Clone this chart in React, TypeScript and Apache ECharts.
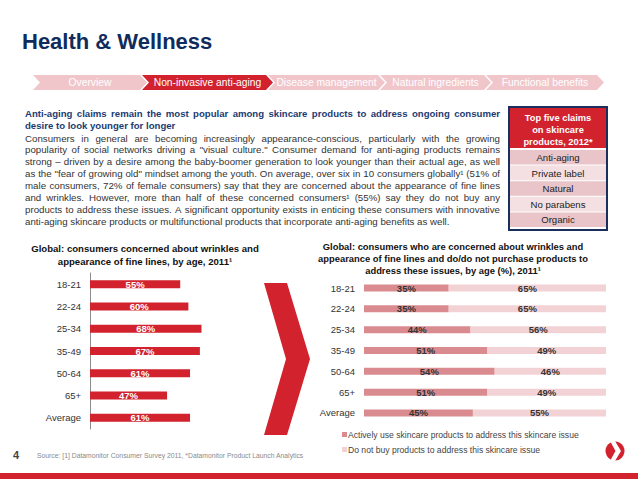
import React, { useEffect, useRef } from "react";
import * as echarts from "echarts";

// ---------- data ----------
const ageGroups = ["18-21", "22-24", "25-34", "35-49", "50-64", "65+", "Average"];
const concernedPct = [55, 60, 68, 67, 61, 47, 61];
const activelyUsePct = [35, 35, 44, 51, 54, 51, 45];
const doNotBuyPct = [65, 65, 56, 49, 46, 49, 55];
const seriesNames = [
  "Actively use skincare products to address this skincare issue",
  "Do not buy products to address this skincare issue",
];
const topClaims = ["Anti-aging", "Private label", "Natural", "No parabens", "Organic"];
const topClaimsTitle = ["Top five claims", "on skincare", "products, 2012*"];
const navItems = ["Overview", "Non-invasive anti-aging", "Disease management", "Natural ingredients", "Functional benefits"];
const activeNav = 1;
const pageTitle = "Health & Wellness";
const headlineLines = [
  "Anti-aging claims remain the most popular among skincare products to address ongoing consumer",
  "desire to look younger for longer",
];
const bodyLines = [
  "Consumers in general are becoming increasingly appearance-conscious, particularly with the growing",
  "popularity of social networks driving a \"visual culture.\" Consumer demand for anti-aging products remains",
  "strong – driven by a desire among the baby-boomer generation to look younger than their actual age, as well",
  "as the \"fear of growing old\" mindset among the youth. On average, over six in 10 consumers globally¹ (51% of",
  "male consumers, 72% of female consumers) say that they are concerned about the appearance of fine lines",
  "and wrinkles. However, more than half of these concerned consumers¹ (55%) say they do not buy any",
  "products to address these issues. A significant opportunity exists in enticing these consumers with innovative",
  "anti-aging skincare products or multifunctional products that incorporate anti-aging benefits as well.",
];
const leftTitle = ["Global: consumers concerned about wrinkles and", "appearance of fine lines, by age, 2011¹"];
const rightTitle = [
  "Global: consumers who are concerned about wrinkles and",
  "appearance of fine lines and do/do not purchase products to",
  "address these issues, by age (%), 2011¹",
];
const pageNumber = "4";
const sourceText = "Source: [1] Datamonitor Consumer Survey 2011, *Datamonitor Product Launch Analytics";

// ---------- styles ----------
const FONT = '"Liberation Sans", Arial, sans-serif';
const RED = "#d1222e";
const PINK = "#f1c6cb";
const NAVY = "#0f2c5c";
const DARK_SEG = "#d98b8f";
const LIGHT_SEG = "#f3d2d5";

function txt(text: string, x: number, y: number, size: number, color: string, weight = "normal", align = "left") {
  return {
    type: "text",
    x,
    y,
    silent: true,
    style: {
      text,
      fill: color,
      fontSize: size,
      fontWeight: weight,
      fontFamily: FONT,
      textAlign: align,
      textVerticalAlign: "middle",
    },
  };
}

function wordWidths(ctx: CanvasRenderingContext2D, text: string, size: number, weight: string) {
  ctx.font = `${weight} ${size}px ${FONT}`;
  return text.split(" ").map((w) => ctx.measureText(w).width);
}

function wordsLine(
  ctx: CanvasRenderingContext2D,
  text: string,
  left: number,
  right: number,
  y: number,
  size: number,
  weight: string,
  color: string,
  justify: boolean
) {
  const words = text.split(" ");
  const ws = wordWidths(ctx, text, size, weight);
  ctx.font = `${weight} ${size}px ${FONT}`;
  const total = ws.reduce((a, b) => a + b, 0);
  const space =
    justify && words.length > 1 ? (right - left - total) / (words.length - 1) : ctx.measureText(" ").width;
  let x = left;
  const out: any[] = [];
  words.forEach((w, i) => {
    out.push(txt(w, x, y, size, color, weight));
    x += ws[i] + space;
  });
  return out;
}

// pick a body font size so that the (unjustified) last line spans targetWidth,
// while keeping a minimum word gap on the justified lines
function fitBodySize(ctx: CanvasRenderingContext2D, lines: string[], targetLast: number, full: number) {
  const base = 9;
  const last = lines[lines.length - 1];
  ctx.font = `normal ${base}px ${FONT}`;
  let size = (base * targetLast) / ctx.measureText(last).width;
  for (let k = 0; k < 30; k++) {
    let ok = true;
    for (let i = 0; i < lines.length - 1; i++) {
      const ws = wordWidths(ctx, lines[i], size, "normal");
      const gap = (full - ws.reduce((a, b) => a + b, 0)) / (ws.length - 1);
      if (gap < 1.6) ok = false;
    }
    if (ok) break;
    size -= 0.05;
  }
  return size;
}

export default function App() {
  const ref = useRef<HTMLDivElement>(null);

  useEffect(() => {
    if (!ref.current) return;
    const chart = echarts.init(ref.current, undefined, { renderer: "svg" });
    const canvas = document.createElement("canvas");
    const ctx = canvas.getContext("2d") as CanvasRenderingContext2D;

    const g: any[] = [];

    // title
    g.push(txt(pageTitle, 22, 41, 22, NAVY, "bold"));

    // nav bar
    const xs = [33, 142, 268, 380, 486];
    const xe = [140, 266, 378, 484, 597];
    const d = 7;
    const top = 75;
    const bot = 90;
    const mid = (top + bot) / 2;
    navItems.forEach((name, i) => {
      g.push({
        type: "polygon",
        silent: true,
        shape: {
          points: [
            [xs[i], top],
            [xe[i], top],
            [xe[i] + d, mid],
            [xe[i], bot],
            [xs[i], bot],
            [xs[i] + d, mid],
          ],
        },
        style: { fill: i === activeNav ? RED : PINK },
      });
      g.push(txt(name, (xs[i] + xe[i]) / 2 + d / 2, mid, 10.3, "#ffffff", "normal", "center"));
    });

    // headline + body text
    headlineLines.forEach((l, i) => {
      g.push(...wordsLine(ctx, l, 25, 500, 113 + i * 12, 9.6, "bold", "#1c3b72", i < headlineLines.length - 1));
    });
    const bodySize = fitBodySize(ctx, bodyLines, 425, 475);
    bodyLines.forEach((l, i) => {
      g.push(...wordsLine(ctx, l, 25, 500, 138 + i * 11.9, bodySize, "normal", "#333333", i < bodyLines.length - 1));
    });

    // top claims box
    g.push({
      type: "rect",
      silent: true,
      shape: { x: 509, y: 107, width: 98, height: 123 },
      style: { fill: "#ffffff", stroke: "#1b2f5e", lineWidth: 2 },
    });
    g.push({
      type: "rect",
      silent: true,
      shape: { x: 510, y: 108, width: 96, height: 40 },
      style: { fill: RED },
    });
    topClaimsTitle.forEach((l, i) => {
      g.push(txt(l, 558, 118 + i * 12, 9.3, "#ffffff", "bold", "center"));
    });
    topClaims.forEach((c, i) => {
      const y = 150 + i * 15.6;
      g.push({
        type: "rect",
        silent: true,
        shape: { x: 510, y, width: 96, height: 14.6 },
        style: { fill: i % 2 === 0 ? "#e9c5c9" : "#f4e0e2" },
      });
      g.push(txt(c, 558, y + 7.5, 9.6, "#222222", "normal", "center"));
    });

    // chart titles
    leftTitle.forEach((l, i) => g.push(txt(l, 145, 248 + i * 13, 9.6, "#111111", "bold", "center")));
    rightTitle.forEach((l, i) => g.push(txt(l, 453, 246 + i * 12.2, 9.4, "#111111", "bold", "center")));

    // big chevron
    g.push({
      type: "polygon",
      silent: true,
      shape: {
        points: [
          [264, 283],
          [287, 283],
          [310, 359],
          [287, 435],
          [264, 435],
          [286, 359],
        ],
      },
      style: { fill: RED },
    });

    // footer
    g.push(txt(pageNumber, 13, 455, 11, "#444444", "bold"));
    g.push(txt(sourceText, 37, 455, 6.8, "#8a8a8a"));
    g.push({
      type: "rect",
      silent: true,
      shape: { x: 0, y: 473, width: 638, height: 6 },
      style: { fill: RED },
    });
    // logo
    g.push({
      type: "circle",
      silent: true,
      shape: { cx: 615, cy: 451, r: 9.5 },
      style: { fill: RED },
    });
    g.push({
      type: "polygon",
      silent: true,
      shape: {
        points: [
          [610, 441],
          [615, 441],
          [621, 451],
          [615, 461],
          [610, 461],
          [615.5, 451],
        ],
      },
      style: { fill: "#ffffff" },
    });

    const segLabel = {
      show: true,
      position: "inside",
      formatter: "{c}%",
      color: "#333333",
      fontWeight: "bold",
      fontSize: 9.5,
      fontFamily: FONT,
    };

    const option: any = {
      animation: false,
      textStyle: { fontFamily: FONT },
      graphic: { elements: g },
      legend: {
        data: seriesNames,
        orient: "vertical",
        left: 342,
        top: 430,
        padding: 0,
        itemWidth: 5,
        itemHeight: 5,
        itemGap: 6,
        icon: "rect",
        selectedMode: false,
        textStyle: { fontSize: 8.6, color: "#444444", fontFamily: FONT, padding: [0, 0, 0, -4] },
      },
      grid: [
        { left: 90, top: 273, width: 164, height: 156 },
        { left: 364, top: 277.6, width: 242, height: 145.8 },
      ],
      xAxis: [
        { gridIndex: 0, type: "value", min: 0, max: 100, show: false },
        { gridIndex: 1, type: "value", min: 0, max: 100, show: false },
      ],
      yAxis: [
        {
          gridIndex: 0,
          type: "category",
          inverse: true,
          data: ageGroups,
          axisLine: { show: true, lineStyle: { color: "#8c8c8c", width: 1 } },
          axisTick: { show: false },
          axisLabel: { color: "#333333", fontSize: 9.5, margin: 9, fontFamily: FONT },
        },
        {
          gridIndex: 1,
          type: "category",
          inverse: true,
          data: ageGroups,
          axisLine: { show: false },
          axisTick: { show: false },
          axisLabel: { color: "#333333", fontSize: 9.5, margin: 9, fontFamily: FONT },
        },
      ],
      series: [
        {
          name: "Concerned",
          type: "bar",
          xAxisIndex: 0,
          yAxisIndex: 0,
          data: concernedPct,
          barWidth: 8,
          itemStyle: { color: RED },
          label: { ...segLabel, color: "#ffffff" },
        },
        {
          name: seriesNames[0],
          type: "bar",
          stack: "r",
          xAxisIndex: 1,
          yAxisIndex: 1,
          data: activelyUsePct,
          barWidth: 7,
          itemStyle: { color: DARK_SEG },
          label: segLabel,
        },
        {
          name: seriesNames[1],
          type: "bar",
          stack: "r",
          xAxisIndex: 1,
          yAxisIndex: 1,
          data: doNotBuyPct,
          barWidth: 7,
          itemStyle: { color: LIGHT_SEG },
          label: segLabel,
        },
      ],
    };

    chart.setOption(option);
    return () => chart.dispose();
  }, []);

  return (
    <div
      ref={ref}
      style={{ position: "absolute", left: 0, top: 0, width: 638, height: 479, background: "#ffffff" }}
    />
  );
}
